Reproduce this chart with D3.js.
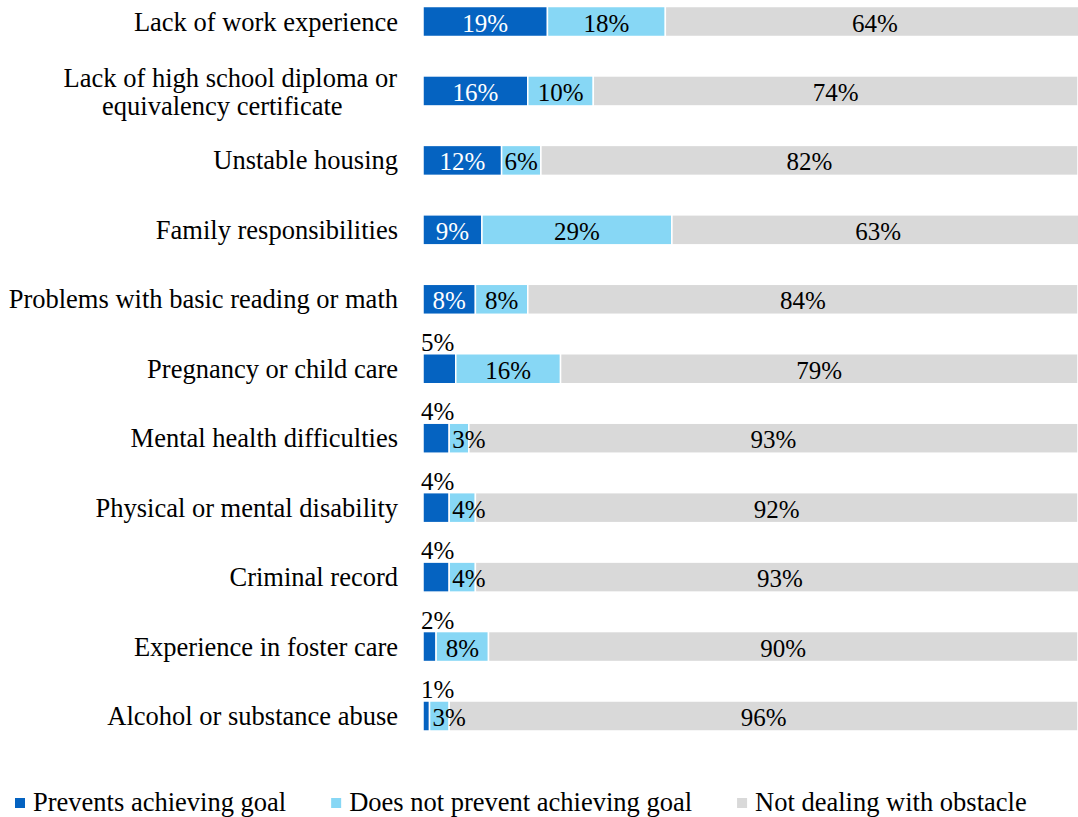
<!DOCTYPE html>
<html>
<head>
<meta charset="utf-8">
<script src="https://cdn.jsdelivr.net/npm/d3@7"></script>
<style>
  html, body { margin: 0; padding: 0; background: #fff; }
  svg { display: block; }
  svg text { font-family: "Liberation Serif", "Times New Roman", serif; }
</style>
</head>
<body>
<svg id="chart" width="1078" height="817"></svg>
<script>
// Obstacles to reaching goals, share of respondents (%)
const categories = [
  "Lack of work experience",
  "Lack of high school diploma or equivalency certificate",
  "Unstable housing",
  "Family responsibilities",
  "Problems with basic reading or math",
  "Pregnancy or child care",
  "Mental health difficulties",
  "Physical or mental disability",
  "Criminal record",
  "Experience in foster care",
  "Alcohol or substance abuse"
];
// wrapped category labels (line breaks)
const categoryLines = [
  ["Lack of work experience"],
  ["Lack of high school diploma or", "equivalency certificate"],
  ["Unstable housing"],
  ["Family responsibilities"],
  ["Problems with basic reading or math"],
  ["Pregnancy or child care"],
  ["Mental health difficulties"],
  ["Physical or mental disability"],
  ["Criminal record"],
  ["Experience in foster care"],
  ["Alcohol or substance abuse"]
];
const prevents   = [19, 16, 12, 9, 8, 5, 4, 4, 4, 2, 1];
const notPrevent = [18, 10, 6, 29, 8, 16, 3, 4, 4, 8, 3];
const notDealing = [64, 74, 82, 63, 84, 79, 93, 92, 93, 90, 96];

const seriesKeys  = ["prevents", "notPrevent", "notDealing"];
const seriesNames = ["Prevents achieving goal", "Does not prevent achieving goal", "Not dealing with obstacle"];
const seriesColors = ["#0563C1", "#87D7F5", "#D9D9D9"];
const labelColors  = ["#ffffff", "#000000", "#000000"];

const FONT = "Liberation Serif, Times New Roman, serif";

const rows = categories.map((c, i) => ({
  category: c,
  prevents: prevents[i],
  notPrevent: notPrevent[i],
  notDealing: notDealing[i]
}));

const svg = d3.select("#chart");

const x = d3.scaleLinear().domain([0, 100]).range([423, 1078]);
const y = d3.scalePoint().domain(categories).range([21.5, 716]);
const barH = 30;

const stacked = d3.stack().keys(seriesKeys)(rows);

// measuring helper
const measure = svg.append("text").attr("visibility", "hidden").attr("font-family", FONT);
function textWidth(str, size) {
  measure.attr("font-size", size).text(str);
  return measure.node().getComputedTextLength();
}

// bars
const layers = svg.append("g").selectAll("g")
  .data(stacked)
  .join("g")
  .attr("fill", (d, i) => seriesColors[i]);

layers.selectAll("rect")
  .data(d => d)
  .join("rect")
  .attr("x", d => x(d[0]))
  .attr("y", d => y(d.data.category) - barH / 2)
  .attr("width", d => x(d[1]) - x(d[0]))
  .attr("height", barH)
  .attr("stroke", "#fff")
  .attr("stroke-width", 1.5);

// value labels
const valSize = 25;
const labels = svg.append("g").attr("font-size", valSize).attr("font-family", FONT);
stacked.forEach((layer, si) => {
  layer.forEach(d => {
    const v = d[1] - d[0];
    const txt = v + "%";
    const cy = y(d.data.category);
    const x0 = x(d[0]);
    const x1 = x(d[1]);
    const tw = textWidth(txt, valSize);
    const t = labels.append("text").text(txt);
    if (si === 0 && (x1 - x0) < tw + 4) {
      // small first segment: label sits above the bar
      t.attr("x", x(0) - 2).attr("y", cy - barH / 2 - 3)
        .attr("text-anchor", "start").attr("fill", "#000");
    } else if (si === 1 && (x1 - x0) < tw + 4) {
      t.attr("x", x0 + 3).attr("y", cy).attr("dy", "0.4em")
        .attr("text-anchor", "start").attr("fill", labelColors[si]);
    } else {
      t.attr("x", (x0 + x1) / 2).attr("y", cy).attr("dy", "0.4em")
        .attr("text-anchor", "middle").attr("fill", labelColors[si]);
    }
  });
});

// category labels
const catSize = 26.5;
const catG = svg.append("g").attr("font-size", catSize).attr("fill", "#000").attr("font-family", FONT);
const labelRight = 398;
categories.forEach((c, i) => {
  const lines = categoryLines[i];
  const cy = y(c);
  if (lines.length === 1) {
    catG.append("text").attr("x", labelRight).attr("y", cy).attr("dy", "0.34em")
      .attr("text-anchor", "end").text(lines[0]);
  } else {
    const w0 = textWidth(lines[0], catSize);
    const mid = labelRight - 1 - w0 / 2 - 8;
    lines.forEach((ln, li) => {
      const t = catG.append("text")
        .attr("y", cy + 1 + (li - (lines.length - 1) / 2) * 28)
        .attr("dy", "0.34em")
        .text(ln);
      if (li === 0) t.attr("x", labelRight - 1).attr("text-anchor", "end");
      else t.attr("x", mid).attr("text-anchor", "middle");
    });
  }
});

// legend
const legSize = 26.5;
const legend = svg.append("g").attr("font-size", legSize).attr("font-family", FONT);
let lx = 15;
seriesNames.forEach((name, i) => {
  legend.append("rect").attr("x", lx).attr("y", 798).attr("width", 10).attr("height", 10)
    .attr("fill", seriesColors[i]);
  legend.append("text").attr("x", lx + 18).attr("y", 811).attr("fill", "#000").text(name);
  lx += 18 + textWidth(name, legSize) + 45;
});

measure.remove();
</script>
</body>
</html>
